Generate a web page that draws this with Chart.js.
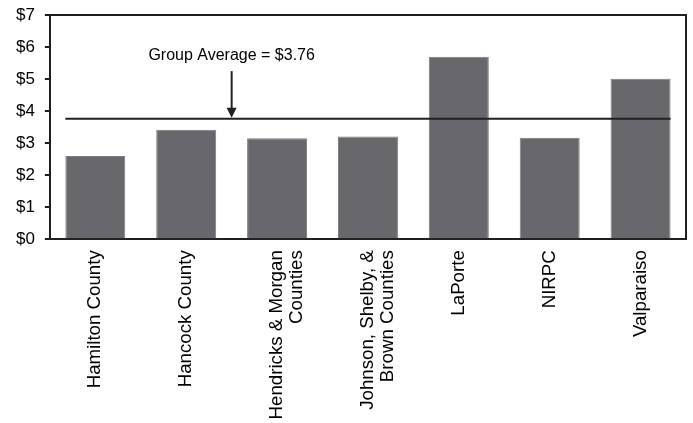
<!DOCTYPE html>
<html>
<head>
<meta charset="utf-8">
<script src="https://cdn.jsdelivr.net/npm/chart.js@4/dist/chart.umd.min.js"></script>
<style>
  html, body { margin: 0; padding: 0; background: #fff; }
  #wrap { width: 693px; height: 423px; position: relative; }
</style>
</head>
<body>
<div id="wrap"><canvas id="costChart"></canvas></div>
<script>
// Chart data
const categories = [
    'Hamilton County',
    'Hancock County',
    ['Hendricks & Morgan', 'Counties'],
    ['Johnson, Shelby, &', 'Brown Counties'],
    'LaPorte',
    'NIRPC',
    'Valparaiso'
];
const costValues = [2.60, 3.42, 3.15, 3.21, 5.70, 3.17, 5.01];
const groupAverage = 3.76;
const yTicks = [0, 1, 2, 3, 4, 5, 6, 7];

// Annotation placement (in scale units)
const arrowAtIndex = 1.5;
const arrowTopValue = 5.25;
const labelValue = 5.75;

const INK = '#231f20';
const BAR = '#68686c';
const FONT = '"Liberation Sans", Arial, sans-serif';

// Draws the plot frame, the average line and the arrow with its label
const averagePlugin = {
    id: 'averageLine',
    afterDatasetsDraw(chart) {
        const ctx = chart.ctx;
        const area = chart.chartArea;
        const x = chart.scales.x;
        const y = chart.scales.y;
        const bars = chart.getDatasetMeta(0).data;

        ctx.save();
        // top and right edges of the box
        ctx.strokeStyle = INK;
        ctx.lineWidth = 2;
        ctx.beginPath();
        ctx.moveTo(area.left, area.top);
        ctx.lineTo(area.right, area.top);
        ctx.lineTo(area.right, area.bottom);
        ctx.stroke();

        // group average line
        const first = bars[0];
        const last = bars[bars.length - 1];
        const avgY = y.getPixelForValue(groupAverage);
        ctx.beginPath();
        ctx.moveTo(first.x - first.width / 2, avgY);
        ctx.lineTo(last.x + last.width / 2, avgY);
        ctx.stroke();

        // arrow
        const ax = x.getPixelForValue(arrowAtIndex);
        const top = y.getPixelForValue(arrowTopValue);
        ctx.beginPath();
        ctx.moveTo(ax, top);
        ctx.lineTo(ax, avgY - 9);
        ctx.stroke();
        ctx.fillStyle = INK;
        ctx.beginPath();
        ctx.moveTo(ax - 5, avgY - 11);
        ctx.lineTo(ax + 5, avgY - 11);
        ctx.lineTo(ax, avgY - 1);
        ctx.closePath();
        ctx.fill();

        // label
        ctx.fillStyle = '#000';
        ctx.font = '16px ' + FONT;
        ctx.textAlign = 'center';
        ctx.textBaseline = 'middle';
        ctx.fillText('Group Average = $' + groupAverage.toFixed(2), ax, y.getPixelForValue(labelValue));
        ctx.restore();
    }
};

const canvas = document.getElementById('costChart');
new Chart(canvas, {
    type: 'bar',
    data: {
        labels: categories,
        datasets: [{
            data: costValues,
            backgroundColor: BAR,
            borderColor: '#7c7c80',
            borderWidth: 1,
            categoryPercentage: 1.0,
            barPercentage: 0.66
        }]
    },
    options: {
        responsive: true,
        maintainAspectRatio: false,
        animation: false,
        layout: {
            autoPadding: false,
            padding: { top: 15, left: 6, right: 7, bottom: -7.5 }
        },
        plugins: {
            legend: { display: false },
            tooltip: { enabled: false }
        },
        scales: {
            x: {
                grid: { display: false, drawTicks: false },
                border: { display: true, color: INK, width: 2 },
                ticks: {
                    color: '#000',
                    maxRotation: 90,
                    minRotation: 90,
                    padding: 11,
                    font: { family: FONT, size: 18.7, lineHeight: 1.07 }
                }
            },
            y: {
                min: 0,
                max: 7,
                afterBuildTicks: (axis) => {
                    axis.ticks = yTicks.map(v => ({ value: v }));
                },
                grid: {
                    drawOnChartArea: false,
                    drawTicks: true,
                    tickLength: 5,
                    color: INK,
                    lineWidth: 2
                },
                border: { display: true, color: INK, width: 2 },
                ticks: {
                    color: '#000',
                    padding: 10,
                    callback: (v) => '$' + v,
                    font: { family: FONT, size: 17, lineHeight: 0.6 }
                }
            }
        }
    },
    plugins: [averagePlugin]
});
</script>
</body>
</html>
